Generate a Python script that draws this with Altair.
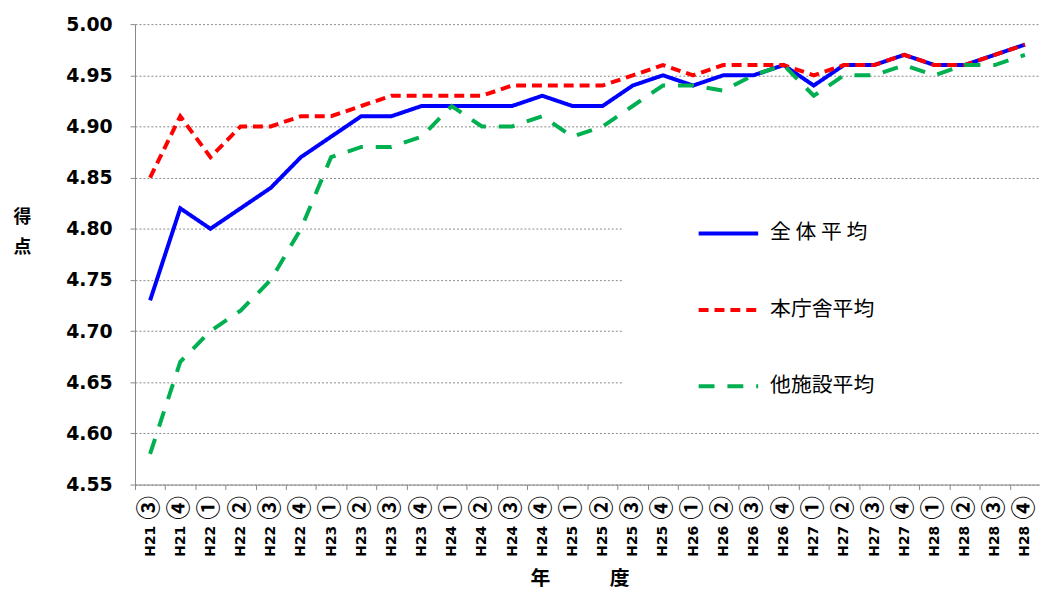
import altair as alt
import pandas as pd

quarters = ["H21③", "H21④", "H22①", "H22②", "H22③", "H22④", "H23①", "H23②", "H23③", "H23④",
            "H24①", "H24②", "H24③", "H24④", "H25①", "H25②", "H25③", "H25④", "H26①", "H26②",
            "H26③", "H26④", "H27①", "H27②", "H27③", "H27④", "H28①", "H28②", "H28③", "H28④"]

overall = [4.73, 4.82, 4.80, 4.82, 4.84, 4.87, 4.89, 4.91, 4.91, 4.92,
           4.92, 4.92, 4.92, 4.93, 4.92, 4.92, 4.94, 4.95, 4.94, 4.95,
           4.95, 4.96, 4.94, 4.96, 4.96, 4.97, 4.96, 4.96, 4.97, 4.98]
main_bldg = [4.85, 4.91, 4.87, 4.90, 4.90, 4.91, 4.91, 4.92, 4.93, 4.93,
             4.93, 4.93, 4.94, 4.94, 4.94, 4.94, 4.95, 4.96, 4.95, 4.96,
             4.96, 4.96, 4.95, 4.96, 4.96, 4.97, 4.96, 4.96, 4.97, 4.98]
other = [4.58, 4.67, 4.70, 4.72, 4.75, 4.80, 4.87, 4.88, 4.88, 4.89,
         4.92, 4.90, 4.90, 4.91, 4.89, 4.90, 4.92, 4.94, 4.94, 4.935,
         4.95, 4.96, 4.93, 4.95, 4.95, 4.96, 4.95, 4.96, 4.96, 4.97]

series_names = ["全 体 平 均", "本庁舎平均", "他施設平均"]
series_colors = ["#0000FF", "#FF0000", "#00B050"]
series_dashes = [[1, 0], [10, 6], [16, 13]]
y_ticks = [4.55, 4.60, 4.65, 4.70, 4.75, 4.80, 4.85, 4.90, 4.95, 5.00]

rows = []
for name, vals in zip(series_names, [overall, main_bldg, other]):
    for q, v in zip(quarters, vals):
        rows.append({"quarter": q, "score": v, "series": name})
df = pd.DataFrame(rows)
df_q = pd.DataFrame({"quarter": quarters})

W, H = 912, 464
LATIN = "DejaVu Sans, Noto Sans CJK JP"
CJK = "Noto Sans CJK JP"
x_scale = alt.Scale(type="band", paddingInner=0, paddingOuter=0)

# main x axis: domain, ticks, and the "H21" part of each label
x_main = alt.X(
    "quarter:N", sort=quarters, scale=x_scale,
    axis=alt.Axis(
        orient="bottom",
        title="年　　　度", labelAngle=-90, labelFont=LATIN, labelFontSize=14,
        labelFontWeight="bold", labelColor="#000000", labelPadding=36,
        labelExpr="substring(datum.label, 0, 3)",
        tickBand="extent", tickSize=5, tickColor="#888888", domainColor="#888888",
        grid=False, titleFont=CJK, titleFontSize=20, titleFontWeight="bold",
        titleX=448, titleY=95, titleBaseline="middle", titleColor="#000000",
    ),
)
# second x axis: the circled quarter number of each label
x_circ = alt.X(
    "quarter:N", sort=quarters, scale=x_scale,
    axis=alt.Axis(
        orient="bottom", title=None, labelAngle=-90, labelFont=CJK, labelFontSize=24,
        labelFontWeight="bold", labelColor="#000000", labelPadding=11,
        labelExpr="substring(datum.label, 3)",
        ticks=False, domain=False, grid=False, offset=0,
    ),
)
y_enc = alt.Y(
    "score:Q",
    scale=alt.Scale(domain=[4.55, 5.00], nice=False, zero=False),
    axis=alt.Axis(
        values=y_ticks, format=".2f", labelFont=LATIN, labelFontSize=19,
        labelFontWeight="bold", labelColor="#000000", labelPadding=18,
        tickSize=5, tickColor="#888888", domainColor="#888888",
        grid=True, gridColor="#888888", gridDash=[2, 2], gridWidth=1,
        title=["得", "点"], titleAngle=0, titleX=-114, titleY=195,
        titleAlign="center", titleBaseline="middle", titleLineHeight=30,
        titleFont=CJK, titleFontSize=18, titleFontWeight="bold", titleColor="#000000",
    ),
)

legend_cfg = dict(
    title=None, orient="none", legendX=566, legendY=179,
    symbolType="stroke", symbolSize=3600, symbolStrokeWidth=4,
    labelFont=CJK, labelFontSize=21, labelColor="#000000",
    labelOffset=10, rowPadding=35, labelLimit=300,
)

lines = alt.Chart(df).mark_line(strokeWidth=4, strokeCap="butt", clip=False).encode(
    x=x_main,
    y=y_enc,
    color=alt.Color(
        "series:N",
        scale=alt.Scale(domain=series_names, range=series_colors),
        legend=alt.Legend(**legend_cfg),
    ),
    strokeDash=alt.StrokeDash(
        "series:N",
        scale=alt.Scale(domain=series_names, range=series_dashes),
        legend=alt.Legend(**legend_cfg),
    ),
    order=alt.Order("series:N"),
)

circ = alt.Chart(df_q).mark_point(opacity=0).encode(x=x_circ)

bg = alt.Chart(pd.DataFrame({"a": [0]})).mark_rect(color="#FFFFFF").encode(
    x=alt.value(492), x2=alt.value(912), y=alt.value(163), y2=alt.value(398)
)

chart = alt.layer(bg, lines, circ).resolve_axis(x="independent").properties(
    width=W, height=H,
    autosize=alt.AutoSizeParams(type="none"),
    padding={"left": 128, "top": 14, "right": 0, "bottom": 107},
    background="#FFFFFF",
).configure_view(stroke=None)

chart.save("out.html", embed_options={"renderer": "svg", "actions": False})
